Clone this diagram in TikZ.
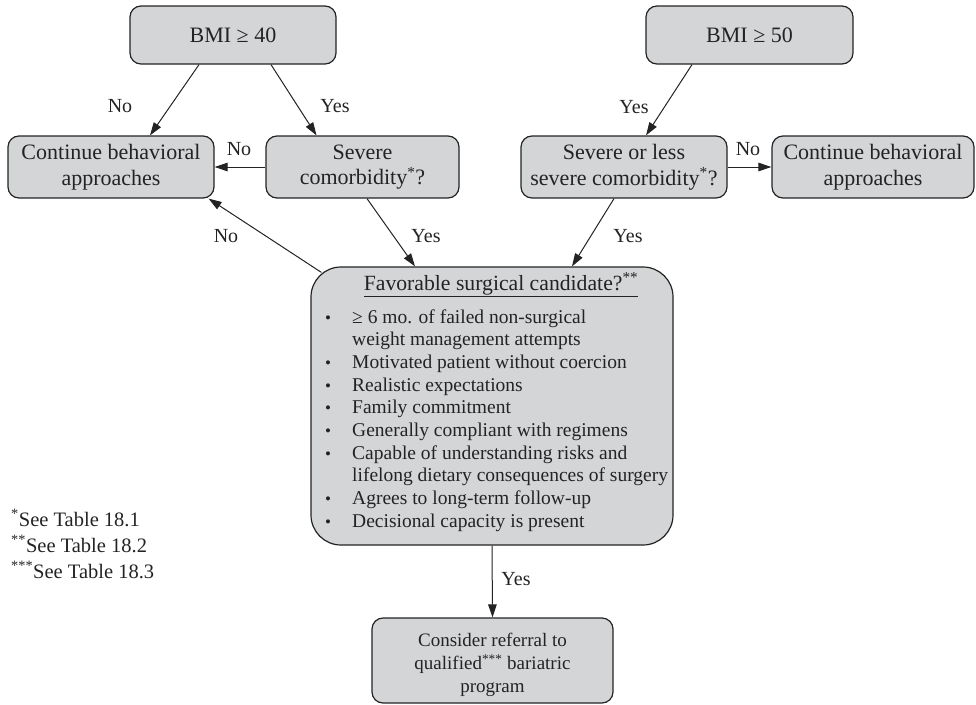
\documentclass[tikz,border=0pt]{standalone}
\usepackage{fontspec}
\setmainfont{Liberation Serif}
\usetikzlibrary{arrows.meta}
\definecolor{boxfill}{RGB}{212,213,215}
\definecolor{ink}{RGB}{35,35,35}
\newcommand{\blt}{{\fontsize{17}{17}\selectfont •}}

\begin{document}
\begin{tikzpicture}[x=1pt,y=-1pt,
  box/.style={draw=ink, fill=boxfill, line width=1.2pt, rounded corners=11pt,
    align=center, inner sep=0pt, text=ink, font=\fontsize{22}{25.5}\selectfont},
  arr/.style={draw=ink, line width=1pt, -{Triangle[length=13pt,width=8.5pt]}},
  lbl/.style={font=\fontsize{20}{22}\selectfont, inner sep=0pt, text=ink},
  note/.style={font=\fontsize{20.5}{26}\selectfont, inner sep=0pt, text=ink, anchor=west}]
\useasboundingbox (0,0) rectangle (976,704);

% decision boxes, top rows
\node[box, minimum width=206pt, minimum height=58pt] (bmi40) at (233,35) {BMI ≥ 40};
\node[box, minimum width=207pt, minimum height=58pt] (bmi50) at (749.5,35) {BMI ≥ 50};
\node[box, minimum width=206pt, minimum height=62pt] (contL) at (111,167) {Continue behavioral\\approaches};
\node[box, minimum width=193pt, minimum height=62pt] (sev) at (362.5,167) {Severe\\comorbidity\textsuperscript{*}?};
\node[box, minimum width=206pt, minimum height=62pt] (sevless) at (624,167) {Severe or less\\severe comorbidity\textsuperscript{*}?};
\node[box, minimum width=202pt, minimum height=62pt] (contR) at (873,167) {Continue behavioral\\approaches};

% candidate assessment box
\node[box, rounded corners=30pt, minimum width=362pt, minimum height=278pt] (big) at (492,406) {};
\node[inner sep=0pt, text=ink, font=\fontsize{21.7}{24}\selectfont] (title) at (501,285)
  {\underline{Favorable surgical candidate?\textsuperscript{**}}};
\node[anchor=north west, inner sep=0pt, text=ink, font=\fontsize{19.5}{22.7}\selectfont] (crit) at (325,307) {%
  \begin{tabular}{@{}p{27pt}@{}l@{}}
  \blt & ≥ 6 mo. of failed non-surgical\\
       & weight management attempts\\
  \blt & Motivated patient without coercion\\
  \blt & Realistic expectations\\
  \blt & Family commitment\\
  \blt & Generally compliant with regimens\\
  \blt & Capable of understanding risks and\\
       & lifelong dietary consequences of surgery\\
  \blt & Agrees to long-term follow-up\\
  \blt & Decisional capacity is present
  \end{tabular}};

\node[box, font=\fontsize{19}{23}\selectfont, minimum width=241pt, minimum height=85pt] (final) at (492.5,660.5)
  {\rule{0pt}{22pt}Consider referral to\\qualified\textsuperscript{***} bariatric\\program};

% connectors
\draw[arr] ([xshift=-34pt]bmi40.south) -- ([xshift=39pt]contL.north);
\draw[arr] ([xshift=38pt]bmi40.south) -- ([xshift=-46pt]sev.north);
\draw[arr] (sev.west) -- (contL.east);
\draw[arr] ([xshift=4.5pt]sev.south) -- ([xshift=-77pt]big.north);
\draw[arr] ([xshift=11pt,yshift=-6pt]big.north west) -- ([xshift=-6pt]contL.south east);
\draw[arr] ([xshift=-57.5pt]bmi50.south) -- ([xshift=22pt]sevless.north);
\draw[arr] (sevless.east) -- (contR.west);
\draw[arr] ([xshift=-10pt]sevless.south) -- ([xshift=80pt]big.north);
\draw[arr] (big.south) -- (final.north);

% connector labels
\node[lbl] (l1) at (120,106) {No};
\node[lbl] (l2) at (335,106) {Yes};
\node[lbl] (l3) at (239,149) {No};
\node[lbl] (l4) at (426,236) {Yes};
\node[lbl] (l5) at (226,236) {No};
\node[lbl] (l6) at (634,107) {Yes};
\node[lbl] (l7) at (748,149) {No};
\node[lbl] (l8) at (628,236) {Yes};
\node[lbl] (l9) at (516,579) {Yes};

% footnotes
\node[note] (n1) at (11,518) {\textsuperscript{*}See Table 18.1};
\node[note] (n2) at (11,544) {\textsuperscript{**}See Table 18.2};
\node[note] (n3) at (11,570) {\textsuperscript{***}See Table 18.3};
\end{tikzpicture}
\end{document}
